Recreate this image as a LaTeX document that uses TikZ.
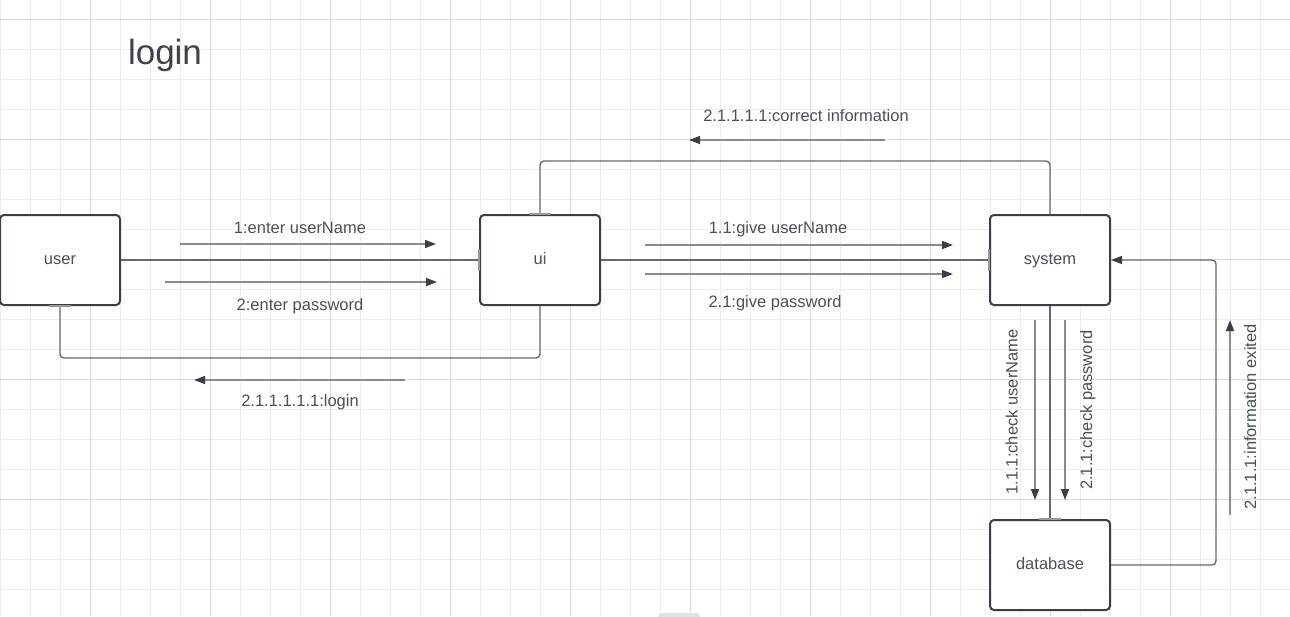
\documentclass[tikz,border=0pt]{standalone}
\usepackage{fontspec}
\setmainfont{Liberation Sans}
\usetikzlibrary{arrows.meta}
\definecolor{gridminor}{HTML}{EDEDED}
\definecolor{gridmajor}{HTML}{DCDCDC}
\definecolor{boxc}{HTML}{3A3E45}
\definecolor{connc}{HTML}{65686E}
\definecolor{msgc}{HTML}{888B90}
\definecolor{headc}{HTML}{3A3F47}
\definecolor{txtc}{HTML}{4B5058}
\definecolor{titlec}{HTML}{3D434B}
\definecolor{portc}{HTML}{9A9A9A}
\definecolor{blobc}{HTML}{E2E2E2}
\begin{document}
\begin{tikzpicture}[x=1pt,y=-1pt,
  box/.style={draw=boxc,line width=2pt,rounded corners=4pt,minimum width=120pt,minimum height=90pt,inner sep=0pt,fill=white,text=txtc,font=\fontsize{16.5}{19}\selectfont,text height=12pt,text depth=3pt},
  conn/.style={draw=connc,line width=1.4pt,rounded corners=4pt},
  msg/.style={draw=msgc,line width=1.5pt,-{Triangle[length=11pt,width=8pt,color=headc]}},
  lbl/.style={text=txtc,font=\fontsize{16.5}{19}\selectfont,inner sep=0pt,anchor=base},
  port/.style={draw=portc,line width=2.5pt}]
\fill[white] (0,0) rectangle (1290,616);
\useasboundingbox (0,0) rectangle (1290,616);
% grid
\foreach \x in {0,30,...,1290} \draw[gridminor,line width=1pt] (\x,0) -- (\x,616);
\foreach \y in {19,49,...,616} \draw[gridminor,line width=1pt] (0,\y) -- (1290,\y);
\foreach \x in {90,210,...,1290} \draw[gridmajor,line width=1pt] (\x,0) -- (\x,616);
\foreach \y in {19,139,...,616} \draw[gridmajor,line width=1pt] (0,\y) -- (1290,\y);
\fill[blobc,rounded corners=4pt] (658,613) rectangle (700,624);

% title
\node[lbl,text=titlec,font=\fontsize{35}{40}\selectfont] (title) at (165,64) {login};

% boxes
\node[box] (user) at (60,260) {user};
\node[box] (ui) at (540,260) {ui};
\node[box] (system) at (1050,260) {system};
\node[box] (database) at (1050,565) {database};

% connectors
\draw[conn] (user.east) -- (ui.west);
\draw[conn] (ui.east) -- (system.west);
\draw[conn] (ui.north) -- ++(0,-53) -| (system.north);
\draw[conn] (ui.south) -- ++(0,52) -| (user.south);
\draw[conn] (system.south) -- (database.north);
\draw[conn,-{Triangle[length=11pt,width=8pt,color=headc]}] (database.east) -- ++(105,0) |- (system.east);

% port marks
\draw[port] ([yshift=-11pt]ui.west) -- ([yshift=11pt]ui.west);
\draw[port] ([yshift=-11pt]system.west) -- ([yshift=11pt]system.west);
\draw[port] ([xshift=-11pt]ui.north) -- ([xshift=11pt]ui.north);
\draw[port] ([xshift=-11pt]user.south) -- ([xshift=11pt]user.south);
\draw[port] ([xshift=-11pt]database.north) -- ([xshift=11pt]database.north);

% message arrows
\coordinate (m1s) at (180,244); \coordinate (m1e) at (436,244);
\coordinate (m2s) at (165,282); \coordinate (m2e) at (437,282);
\coordinate (m3s) at (645,245); \coordinate (m3e) at (953,245);
\coordinate (m4s) at (645,274); \coordinate (m4e) at (953,274);
\coordinate (m5s) at (885,140); \coordinate (m5e) at (689,140);
\coordinate (m6s) at (405,380); \coordinate (m6e) at (194,380);
\coordinate (m7s) at (1035,320); \coordinate (m7e) at (1035,500);
\coordinate (m8s) at (1065,320); \coordinate (m8e) at (1065,500);
\coordinate (m9s) at (1230,515); \coordinate (m9e) at (1230,320);
\draw[msg] (m1s) -- (m1e);
\draw[msg] (m2s) -- (m2e);
\draw[msg] (m3s) -- (m3e);
\draw[msg] (m4s) -- (m4e);
\draw[msg] (m5s) -- (m5e);
\draw[msg] (m6s) -- (m6e);
\draw[msg] (m7s) -- (m7e);
\draw[msg] (m8s) -- (m8e);
\draw[msg] (m9s) -- (m9e);

% labels
\node[lbl] (l1) at (300,233) {1:enter userName};
\node[lbl] (l2) at (300,310) {2:enter password};
\node[lbl] (l3) at (778,233) {1.1:give userName};
\node[lbl] (l4) at (775,307) {2.1:give password};
\node[lbl] (l5) at (806,121) {2.1.1.1.1:correct information};
\node[lbl] (l6) at (300,406) {2.1.1.1.1.1:login};
\node[lbl,rotate=90] (l7) at (1017.5,412) {1.1.1:check userName};
\node[lbl,rotate=90] (l8) at (1092,410) {2.1.1:check password};
\node[lbl,rotate=90] (l9) at (1256,417) {2.1.1.1:information exited};
\end{tikzpicture}
\end{document}
